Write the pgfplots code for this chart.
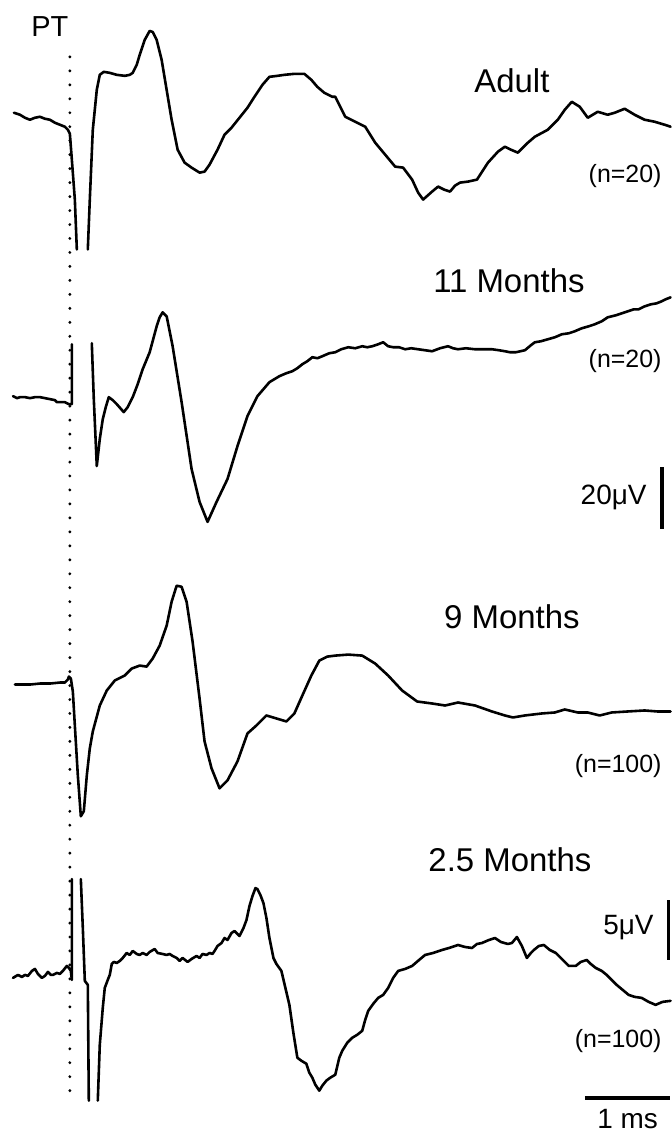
\documentclass[border=0pt]{standalone}
\usepackage{fontspec}
\setmainfont{Liberation Sans}
\usepackage{pgfplots}
\pgfplotsset{compat=1.18}
\begin{document}
\begin{tikzpicture}
\begin{axis}[
  scale only axis, width=336pt, height=567.5pt,
  xmin=0, xmax=672, ymin=0, ymax=1135, y dir=reverse,
  hide axis, clip=false,
  tr/.style={black, solid, line width=1.3pt, line join=round, line cap=round, mark=none},
]
% PT marker
\addplot[black, line width=1.6pt, dash pattern=on 0pt off 7pt, line cap=round, mark=none] coordinates {(70,57) (70,1097)};
% Adult
\addplot[tr] coordinates {(14,113) (20,115) (25,118) (30,120) (35,118) (40,117) (45,119) (50,120) (55,123) (60,125) (65,127) (68,130) (70,134) (72,160) (75,200) (77,250)};
\addplot[tr] coordinates {(88,250) (90,200) (93,130) (97,90) (100,75) (104,72) (110,73) (117,75) (125,76) (130,75) (133,73) (137,65) (140,55) (145,40) (150,31) (153,32) (157,40) (162,60) (167,90) (172,120) (178,150) (185,163) (192,168) (200,173) (205,172) (210,165) (218,150) (225,135) (232,128) (240,118) (248,108) (255,97) (263,85) (270,77) (278,76) (285,75) (295,74) (305,74) (312,80) (318,87) (325,93) (333,97) (336,97) (346,117) (356,122) (366,127) (376,143) (386,155) (396,167) (404,168) (413,180) (419,193) (424,200) (433,192) (439,187) (445,190) (451,192) (456,186) (461,183) (469,182) (478,180) (489,163) (499,152) (506,147) (512,150) (519,153) (529,143) (536,137) (549,130) (559,120) (566,110) (573,102) (581,107) (589,118) (599,112) (609,115) (616,113) (626,109) (636,115) (646,120) (656,122) (666,125) (672,127)};
% 11 Months
\addplot[tr] coordinates {(13,397) (17,399) (20,398) (25,398) (30,399) (35,398) (40,398) (45,399) (50,400) (55,401) (57,403) (62,403) (65,403) (69,405) (72,405) (72,345)};
\addplot[tr] coordinates {(92,344) (94,400) (97,467) (100,440) (103,420) (106,408) (109,398) (113,401) (117,405) (124,413) (128,408) (133,398) (138,385) (143,370) (150,353) (157,327) (160,318) (163,313) (167,317) (173,347) (182,403) (192,470) (200,503) (208,523) (217,503) (228,480) (238,447) (248,417) (258,397) (270,383) (280,377) (287,374) (293,372) (298,369) (303,365) (308,362) (313,358) (318,359) (323,357) (330,354) (336,353) (342,350) (349,348) (356,349) (363,347) (368,348) (373,347) (379,345) (384,343) (389,347) (394,348) (400,348) (406,350) (412,349) (419,350) (426,351) (433,352) (441,349) (449,347) (454,349) (459,350) (467,349) (476,350) (484,350) (493,350) (500,351) (506,352) (511,353) (517,353) (526,351) (532,346) (536,343) (542,342) (549,340) (556,338) (563,335) (570,334) (576,332) (583,329) (590,327) (596,325) (603,322) (609,318) (617,316) (623,314) (629,312) (635,310) (640,310) (646,307) (652,305) (658,304) (663,302) (667,300) (672,298)};
% 9 Months
\addplot[tr] coordinates {(15,686) (30,686) (40,685) (50,685) (60,684) (65,684) (68,681) (69,678) (71,680) (73,693) (75,727) (78,777) (81,818) (84,813) (87,777) (90,750) (93,733) (100,707) (107,692) (115,682) (125,677) (132,670) (140,667) (147,668) (153,660) (160,647) (167,627) (172,603) (177,587) (182,588) (187,603) (193,643) (200,700) (205,743) (212,770) (220,790) (228,782) (238,763) (248,735) (257,727) (267,717) (277,720) (287,723) (295,715) (303,697) (312,677) (320,662) (328,658) (336,657) (349,656) (363,657) (376,665) (389,677) (403,692) (418,703) (433,705) (446,707) (459,704) (476,707) (493,713) (506,717) (514,719) (526,717) (543,715) (556,714) (566,711) (579,714) (589,714) (601,717) (613,714) (629,713) (646,712) (659,713) (672,713)};
% 2.5 Months
\addplot[tr] coordinates {(13,980) (18,977) (22,979) (25,977) (28,978) (32,973) (35,971) (38,976) (42,980) (45,978) (48,974) (51,977) (53,977) (57,975) (60,976) (63,973) (67,968) (69,970) (71,973) (72,982) (72,881)};
\addplot[tr] coordinates {(81,881) (83,930) (85,983) (88,987) (89,1103)};
\addplot[tr] coordinates {(98,1103) (100,1047) (103,1010) (105,990) (108,982) (110,977) (112,966) (114,964) (117,965) (120,963) (123,960) (127,955) (130,957) (133,953) (137,956) (140,957) (143,955) (147,957) (150,954) (155,951) (158,955) (163,956) (167,957) (170,956) (173,958) (177,960) (180,963) (183,960) (188,964) (192,961) (197,958) (200,960) (203,956) (207,957) (210,955) (213,956) (215,953) (218,948) (222,945) (225,940) (228,942) (232,935) (235,933) (238,936) (240,938) (244,930) (247,922) (250,908) (253,898) (256,890) (258,891) (261,897) (264,905) (267,920) (270,940) (274,960) (277,966) (282,973) (286,990) (290,1007) (294,1035) (298,1060) (302,1063) (307,1066) (310,1075) (313,1080) (316,1087) (320,1093) (323,1088) (327,1083) (331,1080) (336,1077) (340,1060) (343,1053) (348,1045) (353,1040) (358,1037) (363,1033) (366,1022) (369,1013) (374,1006) (379,1000) (384,997) (389,990) (394,980) (399,973) (406,971) (413,968) (420,962) (426,957) (434,955) (443,952) (450,950) (459,947) (466,949) (473,950) (478,946) (483,945) (490,942) (496,940) (502,944) (509,946) (513,945) (518,939) (523,948) (528,960) (532,955) (535,952) (540,948) (545,947) (551,952) (557,955) (563,961) (570,968) (577,968) (582,964) (588,962) (592,966) (597,970) (603,973) (608,977) (613,982) (618,987) (624,992) (630,997) (636,999) (643,1000) (650,1004) (657,1007) (664,1004) (672,1003)};
% scale bars
\addplot[black, line width=2pt, mark=none] coordinates {(663,468) (663,530)};
\addplot[black, line width=1.4pt, mark=none] coordinates {(670,902) (670,962)};
\addplot[black, line width=2pt, mark=none] coordinates {(586,1100) (671,1100)};
% labels
\node[font=\fontsize{14.5}{16}\selectfont] at (axis cs:50,27) {PT};
\node[font=\fontsize{16.5}{19}\selectfont] at (axis cs:513,81) {Adult};
\node[font=\fontsize{12.5}{15}\selectfont, anchor=east] at (axis cs:670,176) {(n=20)};
\node[font=\fontsize{16.5}{19}\selectfont] at (axis cs:510,281) {11 Months};
\node[font=\fontsize{12.5}{15}\selectfont, anchor=east] at (axis cs:670,362) {(n=20)};
\node[font=\fontsize{14}{16}\selectfont, anchor=east] at (axis cs:655,498) {20μV};
\node[font=\fontsize{16.5}{19}\selectfont] at (axis cs:513,618) {9 Months};
\node[font=\fontsize{12.5}{15}\selectfont, anchor=east] at (axis cs:670,768) {(n=100)};
\node[font=\fontsize{16.5}{19}\selectfont] at (axis cs:511,862) {2.5 Months};
\node[font=\fontsize{14}{16}\selectfont, anchor=east] at (axis cs:662,930) {5μV};
\node[font=\fontsize{12.5}{15}\selectfont, anchor=east] at (axis cs:670,1043) {(n=100)};
\node[font=\fontsize{14}{16}\selectfont] at (axis cs:629,1121) {1 ms};
\path (rel axis cs:0,0) rectangle (rel axis cs:1,1);
\end{axis}
\end{tikzpicture}
\end{document}
